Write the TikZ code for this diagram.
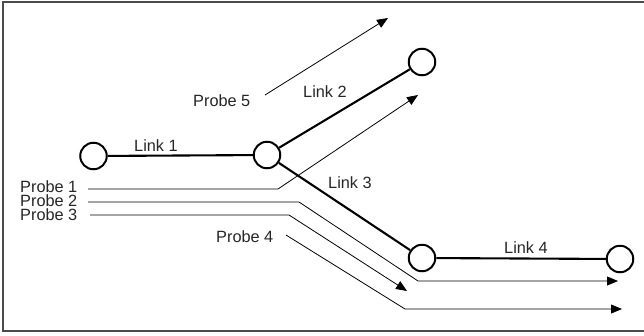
\documentclass[tikz,border=0pt]{standalone}
\usepackage{fontspec}
\setmainfont{Liberation Sans}
\usetikzlibrary{arrows.meta}
\begin{document}
\begin{tikzpicture}[x=1pt,y=-1pt,
  router/.style={circle,draw=black,line width=2pt,minimum size=26.5pt,inner sep=0pt,fill=white},
  linkline/.style={line width=2.1pt,black},
  probeline/.style={line width=0.8pt,black},
  probearrow/.style={probeline,-{Triangle[length=11pt,width=9pt]}},
  lbl/.style={anchor=base west,inner sep=0pt,font=\fontsize{16.3}{17}\selectfont,text=black!85},
  frameline/.style={line width=1.4pt,black!70}]
\useasboundingbox (0,0) rectangle (644,335);
\draw[frameline] (645,2) -- (3,2) -- (3,331) -- (645,331);

% probe paths
\coordinate (p1s) at (88,189);
\coordinate (p1b) at (278,189);
\coordinate (p1e) at (418,95);
\coordinate (p2s) at (88,202);
\coordinate (p2b) at (299,202);
\coordinate (p2c) at (418,281);
\coordinate (p2e) at (618,281);
\coordinate (p3s) at (90,215);
\coordinate (p3b) at (289,215);
\coordinate (p3e) at (407,291);
\coordinate (p4s) at (286,235);
\coordinate (p4c) at (405,309);
\coordinate (p4e) at (622,309);
\coordinate (p5s) at (265,95);
\coordinate (p5e) at (388,18);

\draw[probearrow] (p1s) -- (p1b) -- (p1e);
\draw[probearrow] (p2s) -- (p2b) -- (p2c) -- (p2e);
\draw[probearrow] (p3s) -- (p3b) -- (p3e);
\draw[probearrow] (p4s) -- (p4c) -- (p4e);
\draw[probearrow] (p5s) -- (p5e);

% routers
\node[router] (A) at (93.5,156) {};
\node[router] (B) at (267,155) {};
\node[router] (C) at (422,62) {};
\node[router] (D) at (422,258) {};
\node[router] (E) at (620,259) {};

\draw[linkline] (A) -- (B);
\draw[linkline] (B) -- (C);
\draw[linkline] (B) -- (D);
\draw[linkline] (D) -- (E);

% labels
\node[lbl] (l1) at (134,151) {Link 1};
\node[lbl] (l2) at (303,97) {Link 2};
\node[lbl] (l3) at (328,188) {Link 3};
\node[lbl] (l4) at (504,253) {Link 4};
\node[lbl] (pr1) at (20,192) {Probe 1};
\node[lbl] (pr2) at (20,206.5) {Probe 2};
\node[lbl] (pr3) at (20,220.5) {Probe 3};
\node[lbl] (pr4) at (216,242) {Probe 4};
\node[lbl] (pr5) at (193,106) {Probe 5};
\end{tikzpicture}
\end{document}
